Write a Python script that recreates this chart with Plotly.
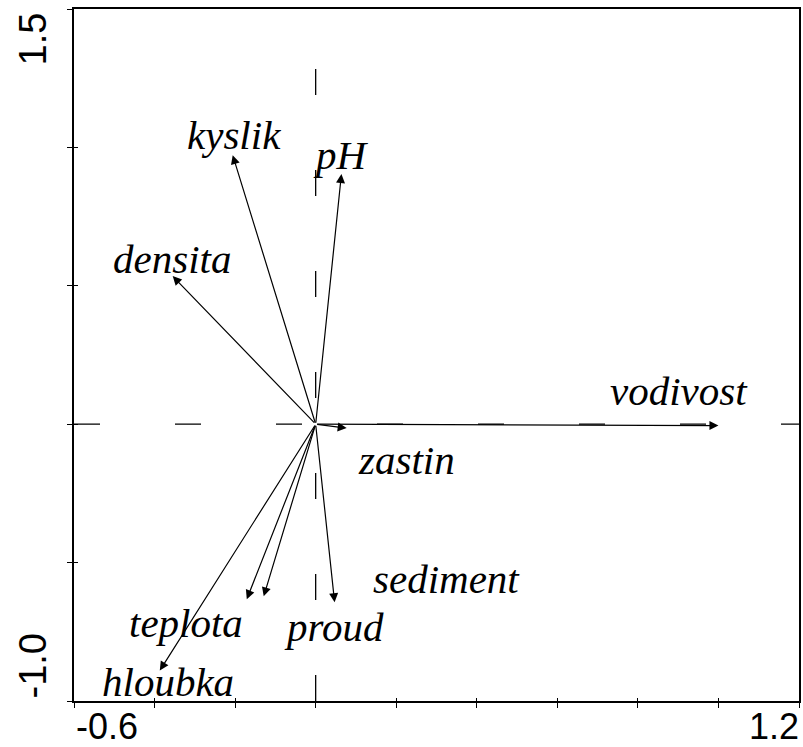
import plotly.graph_objects as go

# Environmental variables of the ordination biplot (arrow tips on axes 1 and 2)
variables = ["vodivost", "zastin", "pH", "kyslik", "densita",
             "hloubka", "teplota", "proud", "sediment"]
axis1 = [1.00, 0.077, 0.064, -0.206, -0.355, -0.387, -0.171, -0.129, 0.047]
axis2 = [-0.005, -0.014, 0.904, 0.972, 0.535, -0.890, -0.632, -0.622, -0.643]

# Axis extents and the end labels shown on them
x_range = [-0.6, 1.2]
y_range = [-1.0, 1.5]
x_end_labels = ["-0.6", "1.2"]
y_end_labels = ["1.5", "-1.0"]

# Where each variable name sits (data coordinates)
label_pos = {
    "vodivost": (0.903, 0.119),
    "zastin": (0.226, -0.131),
    "pH": (0.062, 0.973),
    "kyslik": (-0.203, 1.045),
    "densita": (-0.357, 0.597),
    "hloubka": (-0.367, -0.931),
    "teplota": (-0.322, -0.717),
    "proud": (0.045, -0.731),
    "sediment": (0.325, -0.561),
}

label_font = dict(family="Liberation Serif", size=41, color="black")
num_font = dict(family="Liberation Sans", size=36, color="black")
num_font_y = dict(family="Liberation Sans", size=38, color="black")

fig = go.Figure()

# invisible traces so both axis pairs are laid out
fig.add_trace(go.Scatter(x=x_range, y=y_range, mode="markers",
                         marker=dict(opacity=0), hoverinfo="skip", showlegend=False))
fig.add_trace(go.Scatter(x=x_range, y=y_range, mode="markers", xaxis="x2", yaxis="y2",
                         marker=dict(opacity=0), hoverinfo="skip", showlegend=False))

# dashed zero lines
fig.add_shape(type="line", xref="x", yref="y", x0=x_range[0], x1=x_range[1], y0=0, y1=0,
              line=dict(color="black", width=1.3, dash="26px,75px"), layer="below")
fig.add_shape(type="line", xref="x", yref="y", x0=0, x1=0, y0=y_range[0], y1=y_range[1],
              line=dict(color="black", width=1.3, dash="26px,75px"), layer="below")

annotations = []
for name, a1, a2 in zip(variables, axis1, axis2):
    annotations.append(dict(
        x=a1, y=a2, ax=0, ay=0, xref="x", yref="y", axref="x", ayref="y",
        text="", showarrow=True, arrowhead=2, arrowsize=1.5, arrowwidth=1.2,
        arrowcolor="black", standoff=0, startstandoff=0,
    ))
    lx, ly = label_pos[name]
    annotations.append(dict(
        x=lx, y=ly, xref="x", yref="y", text=f"<i>{name}</i>", showarrow=False,
        font=label_font, xanchor="center", yanchor="middle",
    ))

# axis end labels
annotations.append(dict(x=x_range[0], y=0, xref="x", yref="paper", text=x_end_labels[0],
                        showarrow=False, font=num_font, xanchor="left", yanchor="top",
                        xshift=0, yshift=-3))
annotations.append(dict(x=x_range[1], y=0, xref="x", yref="paper", text=x_end_labels[1],
                        showarrow=False, font=num_font, xanchor="right", yanchor="top",
                        xshift=2, yshift=-3))
annotations.append(dict(x=0, y=y_range[1], xref="paper", yref="y", text=y_end_labels[0],
                        showarrow=False, font=num_font_y, textangle=-90,
                        xanchor="right", yanchor="top", xshift=-19, yshift=-2))
annotations.append(dict(x=0, y=y_range[0], xref="paper", yref="y", text=y_end_labels[1],
                        showarrow=False, font=num_font_y, textangle=-90,
                        xanchor="right", yanchor="bottom", xshift=-19, yshift=0))

axis_common = dict(showgrid=False, zeroline=False, showticklabels=False,
                   linecolor="black", linewidth=1.5, tickcolor="black", tickwidth=1.3)

fig.update_layout(
    width=803, height=747,
    margin=dict(l=74, r=2, t=9, b=46),
    paper_bgcolor="white", plot_bgcolor="white",
    showlegend=False,
    annotations=annotations,
    xaxis=dict(range=x_range, tick0=-0.6, dtick=0.2, ticks="outside", ticklen=5,
               showline=True, mirror=True, **axis_common),
    yaxis=dict(range=y_range, tick0=-1.0, dtick=0.5, ticks="outside", ticklen=5,
               showline=True, mirror=True, **axis_common),
    xaxis2=dict(range=x_range, tick0=-0.6, dtick=0.2, ticks="inside", ticklen=3,
                overlaying="x", anchor="y2", side="bottom", showline=False,
                **axis_common),
    yaxis2=dict(range=y_range, tick0=-1.0, dtick=0.5, ticks="inside", ticklen=4,
                overlaying="y", anchor="x2", side="left", showline=False,
                **axis_common),
)

fig.write_html("out.html")
